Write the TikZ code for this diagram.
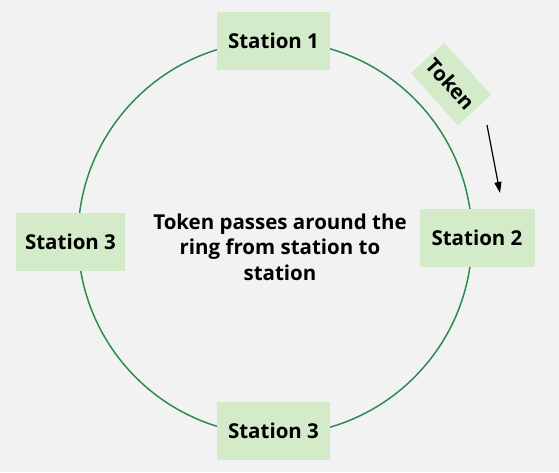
\documentclass[tikz,border=0pt]{standalone}
\usepackage{fontspec}
\setmainfont{Open Sans}
\usetikzlibrary{positioning, arrows.meta}
\definecolor{bgGray}{HTML}{F2F2F2}
\definecolor{ringGreen}{HTML}{2E8B4E}
\definecolor{boxGreen}{HTML}{D4EBC9}
\tikzset{
  every node/.style={font=\bfseries\fontsize{20.5}{24}\selectfont},
  arr/.style={-{Triangle[length=11pt, width=7pt]}, line width=1.2pt},
  stn/.style={fill=boxGreen, minimum width=113pt, minimum height=58pt, inner sep=0pt},
  ringline/.style={draw=ringGreen, line width=1.5pt},
}

\begin{document}
\begin{tikzpicture}[x=1pt, y=-1pt]
  \fill[bgGray] (0,0) rectangle (559,472);
  \useasboundingbox (0,0) rectangle (559,472);
  % the ring
  \node[ringline, circle, minimum size=394pt, inner sep=0pt] (ring) at (275,238) {};
  % stations on the ring
  \node[stn] (s1) at (273.5,41) {Station 1};
  \node[stn, minimum width=115pt] (s2) at (477,238) {Station 2};
  \node[stn, minimum width=109pt] (s3l) at (70.5,242) {Station 3};
  \node[stn] (s3b) at (273.5,431) {Station 3};
  % the token and where it goes
  \node[fill=boxGreen, rotate=-48, minimum width=70pt, minimum height=45pt, inner sep=0pt]
    (tok) at (451,84) {Token};
  \coordinate (tokA) at (487,125);
  \coordinate (tokB) at (500,193);
  \draw[arr] (tokA) -- (tokB);
  \node[align=center, font=\bfseries\fontsize{20.5}{25.5}\selectfont] (msg) at (280,247)
    {Token passes around the\\ring from station to\\station};
\end{tikzpicture}
\end{document}
